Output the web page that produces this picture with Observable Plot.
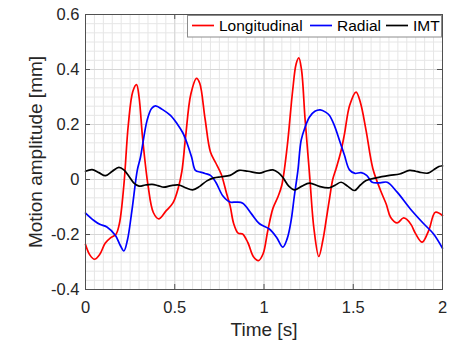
<!DOCTYPE html>
<html>
<head>
<meta charset="utf-8">
<script src="https://cdn.jsdelivr.net/npm/d3@7"></script>
<script src="https://cdn.jsdelivr.net/npm/@observablehq/plot@0.6"></script>
<style>
  body { margin: 0; background: #fff; }
  #chart { position: relative; width: 459px; height: 341px; }
</style>
</head>
<body>
<div id="chart"></div>
<script>
// ---- data ----
const seriesNames = ["Longitudinal", "Radial", "IMT"];
const seriesColors = ["#ff0000", "#0000ff", "#000000"];

const longT = [0, 0.025, 0.05, 0.08, 0.11, 0.14, 0.17, 0.19, 0.215, 0.24, 0.265, 0.286, 0.30, 0.32, 0.35, 0.38, 0.41, 0.45, 0.49, 0.52, 0.54, 0.56, 0.59, 0.622, 0.64, 0.67, 0.70, 0.73, 0.76, 0.79, 0.81, 0.83, 0.855, 0.88, 0.91, 0.94, 0.969, 0.995, 1.02, 1.05, 1.08, 1.10, 1.13, 1.16, 1.18, 1.195, 1.21, 1.23, 1.255, 1.28, 1.307, 1.33, 1.35, 1.367, 1.385, 1.404, 1.43, 1.451, 1.48, 1.516, 1.54, 1.572, 1.61, 1.653, 1.685, 1.709, 1.746, 1.78, 1.80, 1.825, 1.849, 1.886, 1.923, 1.96, 2.0];
const longV = [-0.236, -0.275, -0.29, -0.272, -0.232, -0.212, -0.2, -0.16, -0.02, 0.2, 0.32, 0.345, 0.3, 0.15, -0.02, -0.12, -0.143, -0.115, -0.085, -0.03, 0.03, 0.15, 0.31, 0.368, 0.35, 0.22, 0.1, 0.06, 0.02, -0.05, -0.095, -0.16, -0.195, -0.198, -0.23, -0.28, -0.295, -0.27, -0.19, -0.105, -0.06, -0.02, 0.12, 0.32, 0.42, 0.442, 0.4, 0.22, 0.02, -0.18, -0.28, -0.22, -0.14, -0.07, 0.0, 0.04, 0.1, 0.166, 0.27, 0.318, 0.28, 0.178, 0.039, -0.04, -0.09, -0.137, -0.158, -0.14, -0.145, -0.165, -0.197, -0.228, -0.185, -0.119, -0.131];

const radT = [0, 0.047, 0.08, 0.12, 0.168, 0.195, 0.215, 0.235, 0.26, 0.29, 0.308, 0.345, 0.37, 0.392, 0.43, 0.476, 0.514, 0.545, 0.57, 0.595, 0.616, 0.644, 0.67, 0.70, 0.73, 0.77, 0.81, 0.845, 0.881, 0.93, 0.975, 1.03, 1.07, 1.105, 1.13, 1.152, 1.17, 1.19, 1.208, 1.23, 1.255, 1.285, 1.315, 1.345, 1.367, 1.395, 1.423, 1.45, 1.479, 1.51, 1.544, 1.575, 1.606, 1.65, 1.69, 1.746, 1.82, 1.895, 1.95, 2.0];
const radV = [-0.122, -0.149, -0.163, -0.173, -0.204, -0.24, -0.26, -0.22, -0.113, 0.033, 0.081, 0.215, 0.258, 0.268, 0.255, 0.233, 0.202, 0.17, 0.13, 0.08, 0.033, 0.027, 0.022, 0.015, -0.01, -0.06, -0.082, -0.082, -0.086, -0.125, -0.161, -0.18, -0.21, -0.246, -0.215, -0.149, -0.06, 0.033, 0.142, 0.19, 0.227, 0.248, 0.253, 0.245, 0.233, 0.195, 0.142, 0.09, 0.035, 0.022, 0.025, 0.015, -0.01, -0.012, -0.01, -0.046, -0.107, -0.161, -0.198, -0.25];

const imtT = [0, 0.037, 0.075, 0.112, 0.15, 0.187, 0.215, 0.245, 0.27, 0.30, 0.335, 0.373, 0.405, 0.439, 0.48, 0.523, 0.56, 0.6, 0.64, 0.68, 0.72, 0.76, 0.81, 0.86, 0.91, 0.975, 1.01, 1.05, 1.08, 1.105, 1.14, 1.171, 1.21, 1.255, 1.31, 1.367, 1.40, 1.432, 1.47, 1.507, 1.54, 1.572, 1.628, 1.703, 1.76, 1.815, 1.85, 1.87, 1.918, 1.95, 1.98, 2.0];
const imtV = [0.03, 0.036, 0.025, 0.014, 0.03, 0.044, 0.035, 0.01, -0.012, -0.024, -0.02, -0.018, -0.022, -0.028, -0.022, -0.02, -0.03, -0.038, -0.025, -0.005, 0.006, 0.01, 0.015, 0.033, 0.03, 0.023, 0.03, 0.035, 0.025, 0.008, -0.025, -0.038, -0.025, -0.013, -0.025, -0.03, -0.02, -0.01, -0.025, -0.04, -0.02, -0.004, 0.006, 0.015, 0.02, 0.033, 0.03, 0.027, 0.023, 0.035, 0.047, 0.05];

const xTicks = [0, 0.5, 1, 1.5, 2];
const yTicks = [-0.4, -0.2, 0, 0.2, 0.4, 0.6];
const xLabel = "Time [s]";
const yLabel = "Motion amplitude [mm]";

// ---- build table ----
const table = [];
[[longT, longV], [radT, radV], [imtT, imtV]].forEach(([ts, vs], i) => {
  ts.forEach((t, j) => table.push({series: seriesNames[i], t, v: vs[j]}));
});

const xMinor = d3.range(0, 2.0001, 0.05);
const yMinor = d3.range(0, 31).map(k => -0.4 + k / 30);

const font = "'Liberation Sans', Arial, Helvetica, sans-serif";
const axisColor = "#505050";
const fmt = d => String(d);

const chart = Plot.plot({
  width: 459,
  height: 341,
  marginLeft: 85,
  marginRight: 17,
  marginTop: 14,
  marginBottom: 52,
  style: {fontFamily: font, background: "#fff", color: "#262626"},
  x: {domain: [0, 2]},
  y: {domain: [-0.4, 0.6]},
  color: {domain: seriesNames, range: seriesColors},
  marks: [
    Plot.ruleX(xMinor, {stroke: "#e6e6e6", strokeWidth: 1}),
    Plot.ruleY(yMinor, {stroke: "#e6e6e6", strokeWidth: 1}),
    Plot.ruleX(xTicks, {stroke: "#d6d6d6", strokeWidth: 1}),
    Plot.ruleY(yTicks, {stroke: "#d6d6d6", strokeWidth: 1}),
    Plot.line(table, {x: "t", y: "v", z: "series", stroke: "series", curve: "catmull-rom", strokeWidth: 1.7}),
    Plot.frame({stroke: axisColor, strokeWidth: 1}),
    // inward ticks on all four sides
    Plot.ruleX(xTicks, {y1: -0.4, y2: -0.4, insetTop: -5, stroke: axisColor}),
    Plot.ruleX(xTicks, {y1: 0.6, y2: 0.6, insetBottom: -5, stroke: axisColor}),
    Plot.ruleY(yTicks, {x1: 0, x2: 0, insetRight: -5, stroke: axisColor}),
    Plot.ruleY(yTicks, {x1: 2, x2: 2, insetLeft: -5, stroke: axisColor}),
    Plot.axisX({ticks: xTicks, tickSize: 0, tickPadding: 12, fontSize: 16.5, tickFormat: fmt, label: null}),
    Plot.axisY({ticks: yTicks, tickSize: 0, tickPadding: 6, fontSize: 16.5, tickFormat: fmt, label: null}),
    Plot.text([xLabel], {frameAnchor: "bottom", textAnchor: "middle", lineAnchor: "bottom", dy: 46.5, fontSize: 19, fill: "#262626"}),
    Plot.text([yLabel], {frameAnchor: "left", textAnchor: "middle", lineAnchor: "middle", dx: -50, rotate: -90, fontSize: 19, fill: "#262626"})
  ]
});

document.getElementById("chart").appendChild(chart);

// ---- legend (inside, top-right) ----
const svg = d3.select(chart);
const lg = svg.append("g").attr("font-family", font).attr("font-size", 15.5)
  .attr("fill", "#000").attr("text-anchor", "start");
lg.append("rect").attr("x", 187.5).attr("y", 15.5).attr("width", 254).attr("height", 21.5)
  .attr("fill", "#fff").attr("stroke", "#8c8c8c").attr("stroke-width", 1);
const lineX = [192, 310, 386];
seriesNames.forEach((name, i) => {
  lg.append("line").attr("x1", lineX[i]).attr("x2", lineX[i] + 22).attr("y1", 25.5).attr("y2", 25.5)
    .attr("stroke", seriesColors[i]).attr("stroke-width", 1.7);
  lg.append("text").attr("x", lineX[i] + 27).attr("y", 31).attr("text-anchor", "start").text(name);
});
</script>
</body>
</html>
